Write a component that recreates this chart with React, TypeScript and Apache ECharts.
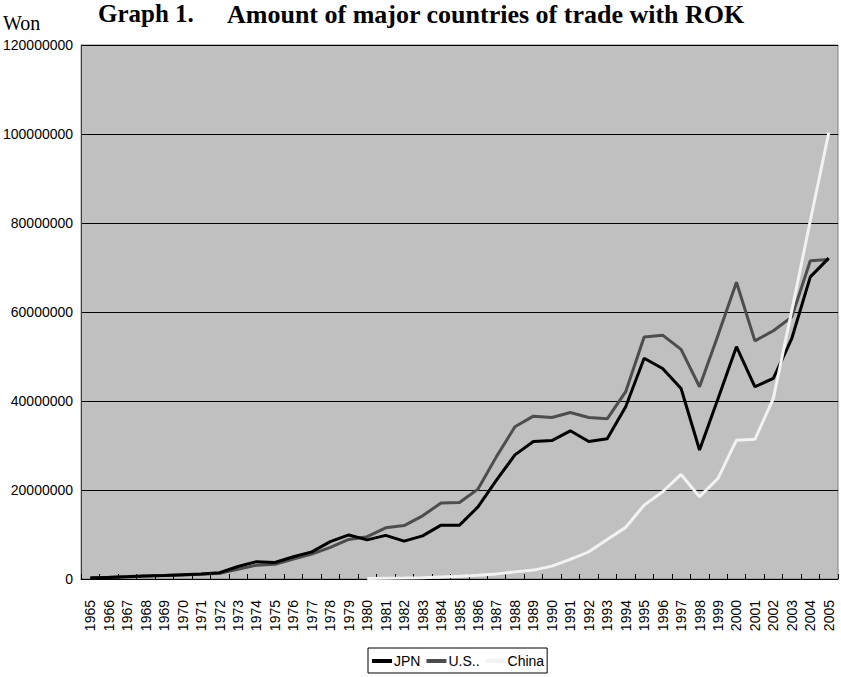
import React, { useEffect, useRef } from "react";
import * as echarts from "echarts";

// Trade amounts with the Republic of Korea, in won
const years: string[] = [
  "1965", "1966", "1967", "1968", "1969", "1970", "1971", "1972", "1973", "1974",
  "1975", "1976", "1977", "1978", "1979", "1980", "1981", "1982", "1983", "1984",
  "1985", "1986", "1987", "1988", "1989", "1990", "1991", "1992", "1993", "1994",
  "1995", "1996", "1997", "1998", "1999", "2000", "2001", "2002", "2003", "2004",
  "2005",
];

const jpn: number[] = [
  200000, 350000, 500000, 700000, 800000, 950000, 1100000, 1400000, 2800000, 3900000,
  3700000, 5000000, 6100000, 8400000, 9900000, 8800000, 9800000, 8500000, 9700000, 12100000,
  12100000, 16200000, 22200000, 27900000, 30900000, 31100000, 33300000, 30900000, 31500000, 38700000,
  49600000, 47300000, 42800000, 29000000, 40500000, 52200000, 43200000, 45100000, 54100000, 67900000,
  72100000,
];

const us: number[] = [
  300000, 400000, 550000, 700000, 800000, 900000, 1050000, 1300000, 2200000, 3100000,
  3300000, 4500000, 5600000, 7100000, 8900000, 9500000, 11500000, 12000000, 14200000, 17100000,
  17200000, 20200000, 27500000, 34200000, 36600000, 36300000, 37400000, 36300000, 36000000, 42100000,
  54400000, 54800000, 51600000, 43200000, 54800000, 66700000, 53500000, 55800000, 58900000, 71500000,
  71800000,
];

const china: (number | null)[] = [
  null, null, null, null, null, null, null, null, null, null,
  null, null, null, null, null, 100000, 150000, 200000, 300000, 450000,
  600000, 850000, 1150000, 1600000, 2000000, 2900000, 4400000, 6100000, 8900000, 11600000,
  16600000, 19600000, 23500000, 18500000, 22600000, 31200000, 31400000, 40600000, 60400000, 80500000,
  100300000,
];

const yTicks = { min: 0, max: 120000000, interval: 20000000 };

const SANS = "'Liberation Sans', Arial, sans-serif";
const SERIF = "'Liberation Serif', 'Times New Roman', serif";

export default function App() {
  const ref = useRef<HTMLDivElement>(null);

  useEffect(() => {
    if (!ref.current) return;
    const chart = echarts.init(ref.current, null, { renderer: "svg" });
    chart.setOption({
      animation: false,
      backgroundColor: "#ffffff",
      graphic: [
        {
          type: "text",
          left: 3,
          top: 13,
          style: { text: "Won", font: `20px ${SERIF}`, fill: "#000" },
        },
        {
          type: "text",
          left: 98,
          top: 1,
          style: { text: "Graph 1.", font: `bold 25px ${SERIF}`, fill: "#000" },
        },
        {
          type: "text",
          left: 227,
          top: 1,
          style: {
            text: "Amount of major countries of trade with ROK",
            font: `bold 26px ${SERIF}`,
            fill: "#000",
          },
        },
      ],
      grid: {
        left: 78,
        right: 3,
        top: 45,
        bottom: 98,
        show: true,
        backgroundColor: "#c0c0c0",
        borderColor: "#808080",
        borderWidth: 1,
        containLabel: false,
      },
      legend: {
        left: 368,
        top: 648,
        data: ["JPN", "U.S..", "China"],
        icon: "rect",
        itemWidth: 20,
        itemHeight: 4,
        itemGap: 6,
        padding: [6, 3, 5, 4],
        borderColor: "#000",
        borderWidth: 1,
        textStyle: { fontFamily: SANS, fontSize: 14, color: "#000", padding: [0, 0, 0, -3] },
      },
      xAxis: {
        type: "category",
        data: years,
        boundaryGap: true,
        axisLine: { show: true, lineStyle: { color: "#000", width: 1 } },
        axisTick: { show: true, inside: true, length: 5, lineStyle: { color: "#000" } },
        axisLabel: {
          rotate: 90,
          interval: 0,
          margin: 21,
          fontFamily: SANS,
          fontSize: 14,
          color: "#000",
        },
        splitLine: { show: false },
      },
      yAxis: {
        type: "value",
        min: yTicks.min,
        max: yTicks.max,
        interval: yTicks.interval,
        axisLine: { show: true, lineStyle: { color: "#404040", width: 1 } },
        axisTick: { show: false },
        axisLabel: {
          margin: 8,
          fontFamily: SANS,
          fontSize: 14,
          color: "#000",
          formatter: (v: number) => String(v),
        },
        splitLine: { show: true, lineStyle: { color: "#000", width: 1 } },
      },
      series: [
        {
          name: "JPN",
          type: "line",
          data: jpn,
          symbol: "none",
          z: 4,
          lineStyle: { color: "#000000", width: 3 },
          itemStyle: { color: "#000000" },
        },
        {
          name: "U.S..",
          type: "line",
          data: us,
          symbol: "none",
          z: 3,
          lineStyle: { color: "#4d4d4d", width: 3 },
          itemStyle: { color: "#4d4d4d" },
        },
        {
          name: "China",
          type: "line",
          data: china,
          symbol: "none",
          z: 5,
          connectNulls: false,
          lineStyle: { color: "#f2f2f2", width: 3 },
          itemStyle: { color: "#f2f2f2" },
        },
      ],
    });
    return () => chart.dispose();
  }, []);

  return <div ref={ref} style={{ width: 841, height: 677, position: "absolute", left: 0, top: 0 }} />;
}
